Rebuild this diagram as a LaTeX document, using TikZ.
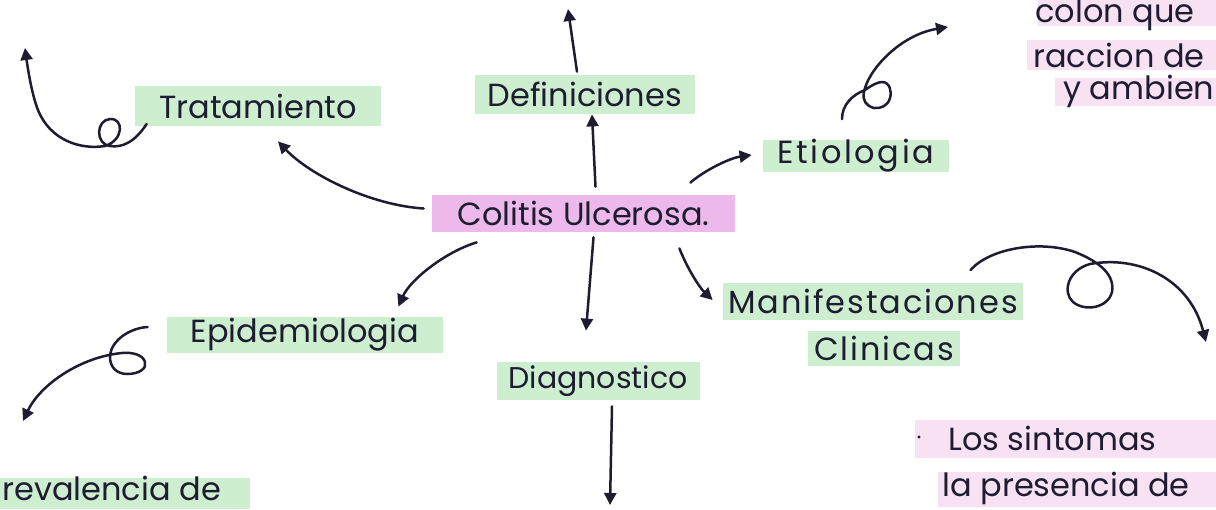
\documentclass[tikz,border=0pt]{standalone}
\usepackage{fontspec}
\setmainfont{Poppins}
\usetikzlibrary{arrows.meta,calc}
\definecolor{ink}{HTML}{1D1C30}
\definecolor{hlgreen}{HTML}{CDEFCF}
\definecolor{hlpink}{HTML}{EDB9EA}
\definecolor{hlpinklight}{HTML}{F8E1F3}
\tikzset{
  topic/.style={fill=hlgreen, text=ink, inner sep=0pt,
    font=\fontsize{16}{18}\selectfont},
  central/.style={topic, fill=hlpink},
  note/.style={text=ink, inner sep=0pt, anchor=west,
    font=\fontsize{16}{18}\selectfont},
  link/.style={draw=ink, line width=1.25pt, line cap=round, line join=round,
    -{Triangle[length=6pt,width=6pt]}},
}
\begin{document}
\begin{tikzpicture}[x=0.5pt,y=-0.5pt]
\useasboundingbox (0,0) rectangle (1216,509);
\fill[white] (0,0) rectangle (1216,509);
\clip (0,0) rectangle (1216,509);

% highlighted topics
\node[central, minimum width=151.5pt, minimum height=18.5pt] (colitis) at (583.5,213.5) {Colitis Ulcerosa.};
\node[topic, minimum width=110pt, minimum height=19.5pt] (def) at (585,94.5) {Definiciones};
\node[topic, minimum width=123pt, minimum height=20pt] (trat) at (258,106) {Tratamiento};
\node[topic, minimum width=93pt, minimum height=14pt,
  font=\fontsize{16}{18}\selectfont\addfontfeature{LetterSpace=8}] (etio) at (856,156) {Etiologia};
\node[topic, minimum width=138pt, minimum height=18pt] (epi) at (305,335) {Epidemiologia};
\node[topic, minimum width=101.5pt, minimum height=19pt,
  font=\fontsize{15}{18}\selectfont] (diag) at (598,381) {Diagnostico};
\node[topic, minimum width=150pt, minimum height=18.5pt,
  font=\fontsize{16}{18}\selectfont\addfontfeature{LetterSpace=6}] (mani) at (873,301) {Manifestaciones};
\node[topic, minimum width=76pt, minimum height=17.5pt,
  font=\fontsize{16}{18}\selectfont\addfontfeature{LetterSpace=6}] (clin) at (884,348) {Clinicas};

% notes running past the page edge
\fill[hlpinklight] (1038,0) rectangle (1216,26);
\fill[hlpinklight] (1027,40) rectangle (1216,70);
\fill[hlpinklight] (1055,78) rectangle (1216,106);
\node[note] (n1) at (1035,15) {colon que};
\node[note] (n2) at (1033,55) {raccion de};
\node[note] (n3) at (1063,91) {y ambien};

\fill[hlpinklight] (915,420) rectangle (1216,458);
\fill[hlpinklight] (938,472) rectangle (1216,507);
\fill[ink] (919,437) circle (1.6);
\node[note] (n4) at (948,438) {Los sintomas};
\node[note] (n5) at (942,488) {la presencia de};

\fill[hlgreen] (0,478) rectangle (250,509);
\node[note] (n6) at (2,488) {revalencia de};

% links from the central topic
\draw[link] ($(colitis.north)+(12,-8)$) -- ($(def.south)+(7,0)$);
\draw[link] ($(colitis.west)+(-8,-5)$) .. controls (370,205) and (310,175) .. ($(trat.south)+(20,15)$);
\draw[link] ($(colitis.north east)+(-45,-12)$) .. controls (705,170) and (730,158) .. ($(etio.west)+(-11,-1)$);
\draw[link] ($(colitis.south west)+(45,10)$) .. controls (445,252) and (410,280) .. ($(epi.north east)+(-45,-10)$);
\draw[link] ($(colitis.south)+(10,5)$) -- ($(diag.north)+(-12,-31)$);
\draw[link] ($(colitis.south east)+(-56,16)$) .. controls (688,270) and (700,288) .. ($(mani.west)+(-10,-1)$);

% outward links
\coordinate (defend) at (568,9);
\coordinate (diagend) at (610,505);
\coordinate (tratend) at (25,48);
\coordinate (etioend) at (948,27);
\coordinate (epiend) at (23,421);
\coordinate (maniend) at (1206,342);

\draw[link] ($(def.north)+(-8,-3)$) -- (defend);
\draw[link] ($(diag.south)+(14,6)$) -- (diagend);

\draw[link] ($(trat.west)+(12,18)$)
  .. controls (135,142) and (122,148) .. (110,146)
  .. controls (95,144) and (96,120) .. (110,119)
  .. controls (124,118) and (124,140) .. (105,146)
  .. controls (80,150) and (50,140) .. (38,110)
  .. controls (32,95) and (28,70) .. (tratend);

\draw[link] ($(etio.north)+(-14,-20)$)
  .. controls (842,105) and (852,95) .. (865,90)
  .. controls (872,85) and (878,82) .. (882,82)
  .. controls (890,82) and (892,92) .. (890,98)
  .. controls (888,106) and (880,109) .. (874,108)
  .. controls (866,106) and (862,100) .. (864,92)
  .. controls (868,70) and (900,35) .. (etioend);

\draw[link] ($(epi.west)+(-19,-8)$)
  .. controls (130,328) and (112,340) .. (110,355)
  .. controls (109,368) and (118,374) .. (127,374)
  .. controls (140,374) and (147,368) .. (145,362)
  .. controls (143,355) and (133,352) .. (122,353)
  .. controls (80,357) and (40,385) .. (epiend);

\draw[link] ($(mani.north east)+(-53,-12)$)
  .. controls (990,248) and (1040,240) .. (1075,252)
  .. controls (1100,262) and (1115,275) .. (1112,292)
  .. controls (1108,308) and (1085,312) .. (1073,302)
  .. controls (1062,292) and (1068,270) .. (1090,264)
  .. controls (1140,255) and (1190,280) .. (maniend);
\end{tikzpicture}
\end{document}
